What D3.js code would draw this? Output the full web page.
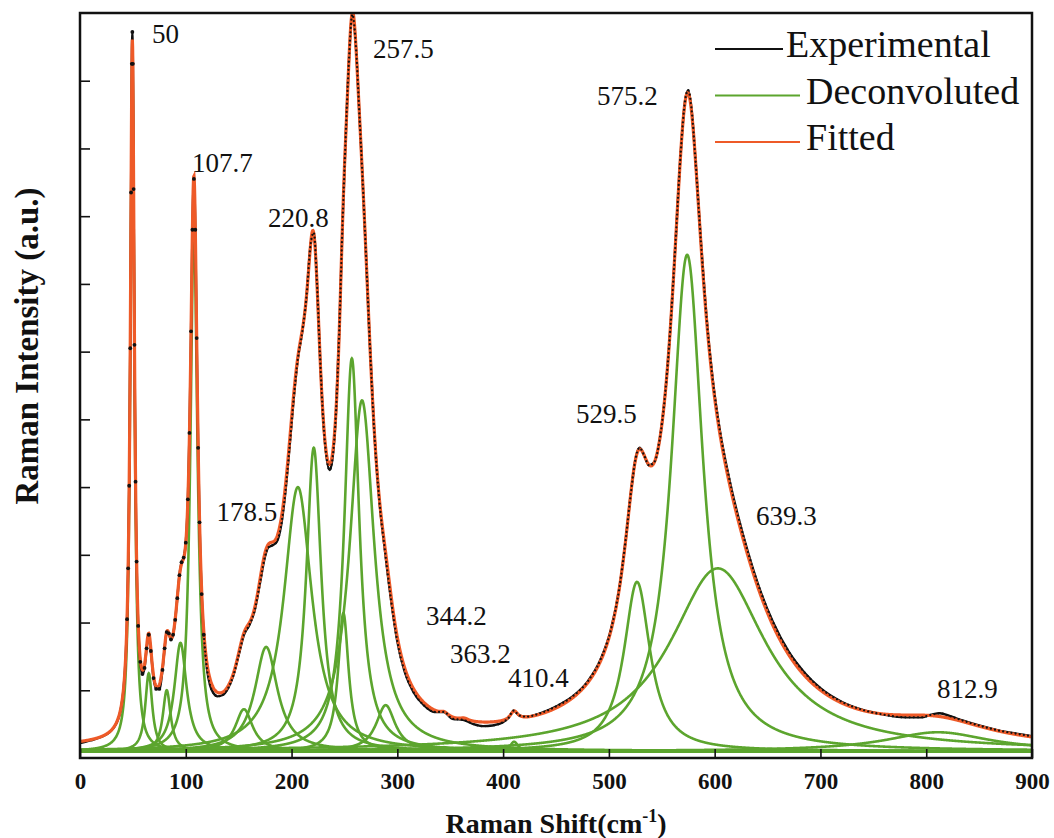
<!DOCTYPE html>
<html>
<head>
<meta charset="utf-8">
<script src="https://cdn.jsdelivr.net/npm/d3@7"></script>
<style>
body { margin: 0; background: #fff; }
svg text { font-family: "Liberation Serif", "Times New Roman", serif; fill: #111; }
</style>
</head>
<body>
<svg id="chart" width="1054" height="838"></svg>
<script>
// deconvoluted Lorentzian bands (cm-1, a.u., FWHM cm-1)
const peakCentre = [49.5, 65, 82, 95, 107.7, 155, 176, 206, 221, 249, 257, 266.6, 289, 344.2, 363.2, 410.4, 526.6, 574, 603, 811]
const peakHeight = [10.2, 1.15, 0.9, 1.6, 7.75, 0.62, 1.54, 3.9, 4.48, 2.04, 5.8, 5.18, 0.68, 0.06, 0.04, 0.14, 2.5, 7.33, 2.7, 0.28]
const peakFwhm = [4.5, 8, 9, 14, 8, 20, 26, 32, 17, 12, 17, 28, 22, 10, 10, 9, 30, 36, 110, 120]
const baseline = 0.1

// experimental spectrum, sampled off the figure
const expShift = [
	0, 10, 20, 28, 34, 38, 41, 43, 44.5, 45.5, 46.5, 47.5,
	48.3, 49, 49.5, 50, 50.7, 51.5, 52.5, 53.5, 55, 57, 59, 61,
	63, 65, 67, 69.5, 72, 75, 78, 80, 82, 84, 86, 88,
	90, 92, 94, 96, 98, 100, 102, 103.5, 105, 106.3, 107.7, 109,
	110.3, 111.7, 113, 115, 117, 120, 123, 126, 130, 135, 140, 145,
	150, 155, 160, 165, 170, 175, 178, 182, 186, 190, 194, 198,
	202, 206, 210, 214, 218, 221, 224, 227, 230, 233, 236, 239,
	242, 245, 248, 251, 254, 257.5, 261, 264, 267, 270, 274, 278,
	283, 288, 294, 300, 307, 315, 325, 335, 344, 352, 363, 372,
	381, 390, 400, 405, 410, 415, 422, 435, 450, 465, 480, 492,
	502, 510, 516, 521, 525, 529, 533, 538, 543, 548, 553, 558,
	563, 568, 572, 575, 578, 582, 587, 592, 598, 605, 613, 622,
	632, 642, 655, 670, 685, 700, 720, 740, 760, 780, 795, 805,
	813, 822, 835, 850, 870, 885, 900]
const expIntensity = [
	0.22, 0.26, 0.31, 0.38, 0.50, 0.68, 0.99, 1.43, 2.05, 2.80, 4.02, 6.05,
	8.35, 10.25, 10.72, 10.25, 8.40, 6.10, 4.08, 2.90, 1.95, 1.42, 1.24, 1.33,
	1.62, 1.82, 1.58, 1.18, 1.02, 1.02, 1.30, 1.62, 1.86, 1.84, 1.75, 1.82,
	2.04, 2.36, 2.70, 2.89, 2.96, 3.18, 3.82, 4.80, 6.30, 7.80, 8.55, 7.80,
	6.20, 4.58, 3.48, 2.42, 1.82, 1.32, 1.07, 0.96, 0.91, 0.93, 1.03, 1.22,
	1.52, 1.82, 1.96, 2.17, 2.57, 2.98, 3.11, 3.14, 3.19, 3.42, 3.90, 4.57,
	5.30, 5.90, 6.28, 6.79, 7.58, 7.76, 7.03, 5.90, 4.98, 4.45, 4.25, 4.46,
	5.10, 6.25, 7.80, 9.10, 10.22, 10.98, 10.47, 9.55, 8.60, 7.57, 6.12, 4.87,
	3.80, 3.10, 2.34, 1.72, 1.27, 0.98, 0.78, 0.68, 0.68, 0.58, 0.56, 0.50,
	0.47, 0.48, 0.53, 0.59, 0.70, 0.63, 0.61, 0.66, 0.76, 0.90, 1.13, 1.45,
	1.90, 2.52, 3.24, 3.94, 4.40, 4.58, 4.48, 4.32, 4.37, 4.70, 5.34, 6.32,
	7.61, 8.96, 9.70, 9.86, 9.60, 8.80, 7.62, 6.56, 5.61, 4.83, 4.18, 3.58,
	3.01, 2.52, 2.01, 1.57, 1.26, 1.03, 0.83, 0.71, 0.64, 0.60, 0.60, 0.64,
	0.66, 0.62, 0.55, 0.48, 0.40, 0.36, 0.32]

const peakLabels = ['50', '107.7', '220.8', '257.5', '575.2', '529.5', '178.5', '639.3', '344.2', '363.2', '410.4', '812.9']
const xTicks = [0, 100, 200, 300, 400, 500, 600, 700, 800, 900]
const yTicks = [1, 2, 3, 4, 5, 6, 7, 8, 9, 10]
const legendNames = ['Experimental', 'Deconvoluted', 'Fitted']

const svg = d3.select('#chart')
const x = d3.scaleLinear().domain([0, 900]).range([80, 1032])
const y = d3.scaleLinear().domain([0, 11]).range([758, 13])
const colors = { exp: '#111', dec: '#5ca52e', fit: '#ee5a28' }

const lorentz = (i) => (v) => peakHeight[i] / (1 + Math.pow((v - peakCentre[i]) / (peakFwhm[i] / 2), 2))
const grid = d3.range(0, 900.001, 0.25)
const fitted = (v) => baseline + peakCentre.reduce((s, _, i) => s + lorentz(i)(v), 0)
const expData = expShift.map((v, i) => [v, expIntensity[i]])

svg.append('rect').attr('width', 1054).attr('height', 838).attr('fill', '#fff')
svg.append('clipPath').attr('id', 'clip').append('rect')
	.attr('x', 80).attr('y', 13).attr('width', 952).attr('height', 745)

const plot = svg.append('g').attr('clip-path', 'url(#clip)')
const line = d3.line().x(d => x(d[0])).y(d => y(d[1]))
const expLine = d3.line().x(d => x(d[0])).y(d => y(d[1])).curve(d3.curveMonotoneX)

// deconvoluted bands
plot.append('g').selectAll('path')
	.data(peakCentre.map((_, i) => grid.map(v => [v, baseline + lorentz(i)(v)])))
	.join('path')
	.attr('d', line)
	.attr('fill', 'none').attr('stroke', colors.dec).attr('stroke-width', 2.6)

// experimental trace under the fit
plot.append('path')
	.attr('d', expLine(expData))
	.attr('fill', 'none').attr('stroke', colors.exp).attr('stroke-width', 2.4)

// fitted envelope
plot.append('path')
	.attr('d', line(grid.map(v => [v, fitted(v)])))
	.attr('fill', 'none').attr('stroke', colors.fit).attr('stroke-width', 3.2)

// experimental markers: points on the sharp low-shift bands, dotted trace on the rest
plot.append('g').selectAll('circle')
	.data(expData.filter(d => d[0] >= 44 && d[0] < 118))
	.join('circle')
	.attr('cx', d => x(d[0])).attr('cy', d => y(d[1])).attr('r', 1.9)
	.attr('fill', colors.exp)
plot.append('path')
	.attr('d', expLine(expData.filter(d => d[0] >= 117)))
	.attr('fill', 'none').attr('stroke', colors.exp).attr('stroke-width', 2.3)
	.attr('stroke-linecap', 'round').attr('stroke-dasharray', '0 4.2')

// axes frame
svg.append('rect').attr('x', 80).attr('y', 13).attr('width', 952).attr('height', 745)
	.attr('fill', 'none').attr('stroke', '#111').attr('stroke-width', 2.5)

const xAxis = svg.append('g').attr('transform', 'translate(0,758)')
	.call(d3.axisBottom(x).tickValues(xTicks).tickSizeInner(-9).tickSizeOuter(0).tickPadding(15))
const yAxis = svg.append('g').attr('transform', 'translate(80,0)')
	.call(d3.axisLeft(y).tickValues(yTicks).tickSizeInner(-10).tickSizeOuter(0).tickFormat(''))
xAxis.select('.domain').remove()
yAxis.select('.domain').remove()
svg.selectAll('.tick line').attr('stroke', '#111').attr('stroke-width', 1.6)
xAxis.selectAll('.tick text')
	.attr('font-family', '"Liberation Serif", serif').attr('font-size', 23).attr('font-weight', 'bold').attr('fill', '#111')

// axis titles
svg.append('text').attr('transform', 'translate(38,346) rotate(-90)')
	.attr('text-anchor', 'middle').attr('font-size', 33).attr('font-weight', 'bold')
	.text('Raman Intensity (a.u.)')
const xt = svg.append('text').attr('x', 556).attr('y', 833)
	.attr('text-anchor', 'middle').attr('font-size', 28).attr('font-weight', 'bold')
xt.append('tspan').text('Raman Shift(cm')
xt.append('tspan').attr('font-size', 18).attr('dy', -11).text('-1')
xt.append('tspan').attr('dy', 11).text(')')

// peak labels (anchor in data units)
const labelAt = [[68, 10.55], [105.9, 8.65], [177.7, 7.84], [277, 10.34], [488.8, 9.64], [469, 4.95],
	[129, 3.5], [639.1, 3.44], [327, 1.96], [349.8, 1.4], [404.6, 1.05], [810.2, 0.89]]
svg.append('g').selectAll('text')
	.data(peakLabels)
	.join('text')
	.attr('x', (d, i) => x(labelAt[i][0]))
	.attr('y', (d, i) => y(labelAt[i][1]))
	.attr('font-size', 27)
	.text(d => d)

// legend
const leg = svg.append('g').selectAll('g')
	.data(legendNames)
	.join('g')
	.attr('transform', (d, i) => `translate(0,${57 + i * 46.5})`)
leg.append('line')
	.attr('x1', 715).attr('x2', (d, i) => i === 0 ? 783 : 800)
	.attr('y1', -8).attr('y2', -8)
	.attr('stroke', (d, i) => [colors.exp, colors.dec, colors.fit][i]).attr('stroke-width', 2.2)
leg.append('text')
	.attr('x', (d, i) => i === 0 ? 786 : 806)
	.attr('font-size', 38)
	.text(d => d)
</script>
</body>
</html>
